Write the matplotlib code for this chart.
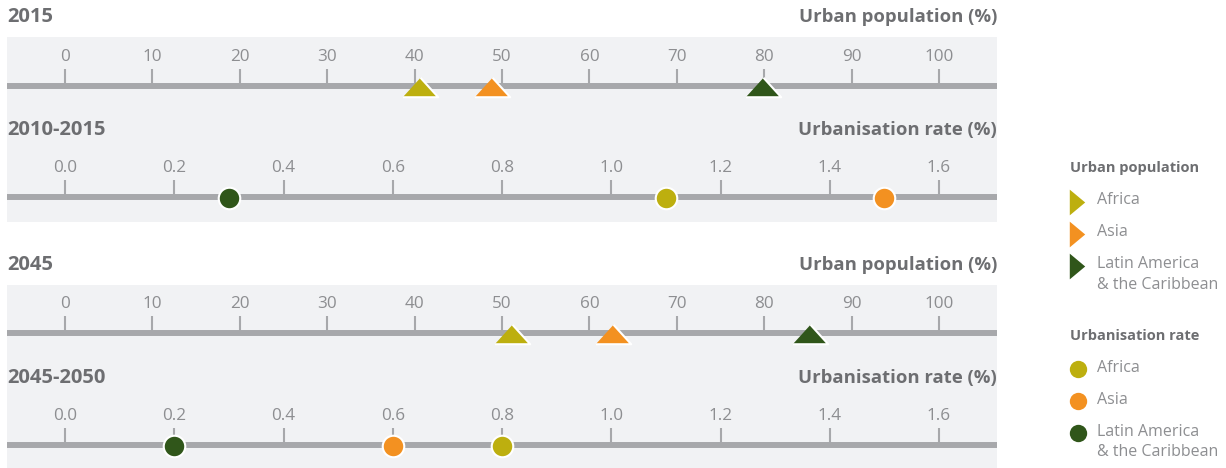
import matplotlib.pyplot as plt
from matplotlib.patches import Rectangle
import numpy as np

plt.rcParams['font.family'] = ['Open Sans', 'DejaVu Sans']

regions = ["Africa", "Asia", "Latin America\n& the Caribbean"]
colors = ["#bdaf0f", "#f39121", "#30561a"]

pop_2015 = [40.6, 48.9, 79.9]
rate_2010_2015 = [1.10, 1.50, 0.30]
pop_2045 = [51.1, 62.7, 85.2]
rate_2045_2050 = [0.80, 0.60, 0.20]

pop_ticks = [0, 10, 20, 30, 40, 50, 60, 70, 80, 90, 100]
rate_ticks = [0.0, 0.2, 0.4, 0.6, 0.8, 1.0, 1.2, 1.4, 1.6]

W, H = 1226, 468
fig = plt.figure(figsize=(W / 100, H / 100), dpi=100)

TITLE_C = "#6d6e71"
LABEL_C = "#8d8e91"
LINE_C = "#a7a8ab"
BG_C = "#f1f2f4"

tri_up = [(-1, -0.55), (1, -0.55), (0, 0.55)]
tri_right = [(-0.6, -1), (0.6, 0), (-0.6, 1)]

px_left, px_right = 7, 997


def fx(px):
  return px / W


def fy(py):
  return 1 - py / H


# background panels
for top, bot in [(37, 222), (285, 468)]:
  fig.add_artist(Rectangle((fx(px_left), fy(bot)), fx(px_right - px_left), (bot - top) / H,
                           transform=fig.transFigure, facecolor=BG_C, edgecolor="none", zorder=0))


def scale_row(line_y, tick_top, ticks, lims, fmt, values, marker, msize):
  ax = fig.add_axes([fx(px_left), fy(line_y), fx(px_right - px_left), (line_y - tick_top) / H])
  ax.patch.set_visible(False)
  ax.set_xlim(lims)
  ax.set_ylim(0, 1)
  for s in ["top", "left", "right"]:
    ax.spines[s].set_visible(False)
  ax.spines["bottom"].set_color(LINE_C)
  ax.spines["bottom"].set_linewidth(4.3)
  ax.spines["bottom"].set_capstyle("butt")
  ax.set_yticks([])
  ax.set_xticks(ticks)
  ax.set_xticklabels([fmt.format(t) for t in ticks])
  ax.tick_params(axis="x", which="both", bottom=True, top=False, direction="in",
                 length=12, width=1.5, color=LINE_C,
                 labelbottom=False, labeltop=True, labelsize=12.3, labelcolor=LABEL_C, pad=3)
  for v, c in zip(values, colors):
    ax.plot([v], [-0.08], marker=marker, markersize=msize, color=c, markeredgecolor="white",
            markeredgewidth=1.5, linestyle="none", clip_on=False, zorder=5)
  return ax


lo_pop = (px_left - 65) / 8.74
hi_pop = (px_right - 65) / 8.74
lo_rate = (px_left - 65) * 0.2 / 109.25
hi_rate = (px_right - 65) * 0.2 / 109.25

scale_row(86, 69, pop_ticks, (lo_pop, hi_pop), "{:d}", pop_2015, tri_up, 25.5)
scale_row(197, 180, rate_ticks, (lo_rate, hi_rate), "{:.1f}", rate_2010_2015, "o", 15.5)
scale_row(333, 316, pop_ticks, (lo_pop, hi_pop), "{:d}", pop_2045, tri_up, 25.5)
scale_row(445, 428, rate_ticks, (lo_rate, hi_rate), "{:.1f}", rate_2045_2050, "o", 15.5)

# row titles
titles = [(17, "2015", "Urban population (%)"),
          (130, "2010-2015", "Urbanisation rate (%)"),
          (265, "2045", "Urban population (%)"),
          (378, "2045-2050", "Urbanisation rate (%)")]
for y, left, right in titles:
  fig.text(fx(px_left), fy(y), left, ha="left", va="center", fontsize=14.5,
           fontweight="bold", color=TITLE_C)
  fig.text(fx(px_right), fy(y), right, ha="right", va="center", fontsize=13.3,
           fontweight="bold", color=TITLE_C)

# legend
lax = fig.add_axes([0, 0, 1, 1])
lax.set_xlim(0, W)
lax.set_ylim(H, 0)
lax.axis("off")

lax.text(1070, 168, "Urban population", ha="left", va="center", fontsize=10.5,
         fontweight="bold", color=TITLE_C)
lax.text(1070, 336, "Urbanisation rate", ha="left", va="center", fontsize=10.5,
         fontweight="bold", color=TITLE_C)

for i, (name, c) in enumerate(zip(regions, colors)):
  y1 = 202 + i * 32
  y2 = 369 + i * 32
  lax.plot([1077], [y1], marker=tri_right, markersize=18.5, color=c, markeredgewidth=0, linestyle="none")
  lax.plot([1078], [y2], marker="o", markersize=12.5, color=c, markeredgewidth=0, linestyle="none")
  for y in (y1, y2):
    lax.text(1097, y - 9.5, name, ha="left", va="top", fontsize=11.5, color=LABEL_C, linespacing=1.4)

fig.savefig("out.png", dpi=100)
